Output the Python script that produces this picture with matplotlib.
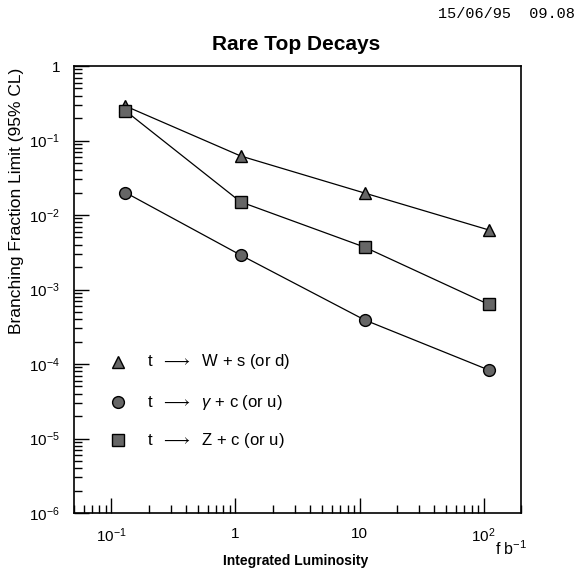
"""Rare top decay branching fraction limits vs integrated luminosity."""

import matplotlib

matplotlib.use("Agg")

import matplotlib.pyplot as plt
from matplotlib.ticker import FixedLocator, FuncFormatter, LogLocator, NullFormatter

plt.rcParams["font.family"] = ["Liberation Sans", "DejaVu Sans"]
plt.rcParams["mathtext.fontset"] = "custom"
plt.rcParams["mathtext.rm"] = "Liberation Sans"
plt.rcParams["mathtext.it"] = "Liberation Sans:italic"

lumi = [0.13, 1.1, 11.0, 110.0]
limit_ws = [0.29, 0.062, 0.0197, 0.0063]
limit_gc = [0.020, 0.0029, 0.00039, 0.000083]
limit_zc = [0.25, 0.015, 0.0037, 0.00063]

series = [
    (limit_ws, "^", r"t  $\longrightarrow$  W + s (or d)"),
    (limit_gc, "o", r"t  $\longrightarrow$  $\gamma$ + c (or u)"),
    (limit_zc, "s", r"t  $\longrightarrow$  Z + c (or u)"),
]

x_ticks = [0.1, 1, 10, 100]
x_tick_labels = [r"$10^{-1}$", "1", "10", r"$10^{2}$"]
y_ticks = [1e-6, 1e-5, 1e-4, 1e-3, 1e-2, 1e-1, 1]
y_tick_labels = [r"$10^{-6}$", r"$10^{-5}$", r"$10^{-4}$", r"$10^{-3}$",
                 r"$10^{-2}$", r"$10^{-1}$", "1"]


def main() -> None:
    fig = plt.figure(figsize=(5.77, 5.71), dpi=100)
    ax = fig.add_axes([74 / 577, 1 - 513 / 571, 447 / 577, 447 / 571])
    ax.set_xscale("log")
    ax.set_yscale("log")
    ax.set_xlim(0.05, 200)
    ax.set_ylim(1e-6, 1)

    marker_style = dict(linestyle="none", markersize=8.5, markerfacecolor="0.4",
                        markeredgecolor="black", markeredgewidth=1.0)
    for values, marker, _ in series:
        ax.plot(lumi, values, color="black", linewidth=0.9, zorder=2)
        ax.plot(lumi, values, marker=marker, zorder=3, **marker_style)

    # legend drawn PAW style inside the frame
    legend_y = [0.338, 0.248, 0.163]
    for (values, marker, label), ly in zip(series, legend_y):
        ax.plot([0.098], [ly], transform=ax.transAxes, marker=marker,
                clip_on=False, **marker_style)
        ax.text(0.163, ly, label, transform=ax.transAxes, fontsize=12,
                va="center", ha="left")

    ax.xaxis.set_major_locator(FixedLocator(x_ticks))
    ax.xaxis.set_major_formatter(FuncFormatter(lambda v, p: x_tick_labels[min(range(len(x_ticks)), key=lambda i: abs(x_ticks[i] - v))]))
    ax.xaxis.set_minor_locator(LogLocator(base=10, subs=range(2, 10)))
    ax.xaxis.set_minor_formatter(NullFormatter())
    ax.yaxis.set_major_locator(FixedLocator(y_ticks))
    ax.yaxis.set_major_formatter(FuncFormatter(lambda v, p: y_tick_labels[min(range(len(y_ticks)), key=lambda i: abs(y_ticks[i] - v))]))
    ax.yaxis.set_minor_locator(LogLocator(base=10, subs=range(2, 10)))
    ax.yaxis.set_minor_formatter(NullFormatter())

    ax.tick_params(which="both", direction="in", top=False, right=False, width=1.0)
    ax.tick_params(which="major", length=11, labelsize=11, pad=10)
    ax.tick_params(which="minor", length=6)
    for spine in ax.spines.values():
        spine.set_linewidth(1.2)

    fig.text(17 / 577, 1 - 201 / 571, "Branching Fraction Limit (95% CL)",
             fontsize=12.5, rotation=90, ha="center", va="center")
    fig.text(296 / 577, 1 - 561 / 571, "Integrated Luminosity", fontsize=10,
             fontweight="bold", ha="center", va="center")
    fig.text(495 / 577, 1 - 549 / 571, r"f b$^{-1}$", fontsize=11.5,
             ha="left", va="center")
    fig.text(296 / 577, 1 - 44 / 571, "Rare Top Decays", fontsize=15,
             fontweight="bold", ha="center", va="center")
    fig.text(575 / 577, 1 - 14 / 571, "15/06/95  09.08", fontsize=11,
             family="Liberation Mono", ha="right", va="center")

    fig.savefig("out.png", dpi=100)
    plt.close(fig)


if __name__ == "__main__":
    main()
